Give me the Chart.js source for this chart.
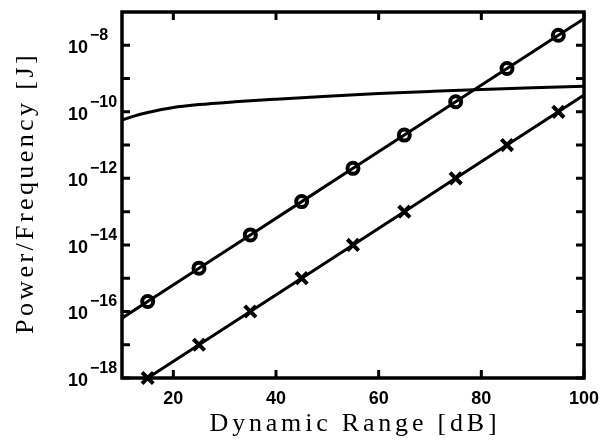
<!DOCTYPE html>
<html>
<head>
<meta charset="utf-8">
<script src="https://cdn.jsdelivr.net/npm/chart.js@4/dist/chart.umd.min.js"></script>
<style>
  body { margin: 0; background: #fff; }
</style>
</head>
<body>
<canvas id="grafico" width="605" height="440"></canvas>
<script>
// Dados ========================================================================

// curva com marcadores circulares
const xCirculo = [10, 15, 25, 35, 45, 55, 65, 75, 85, 95, 100];
const yCirculo = [6.3e-17, 2e-16, 2e-15, 2e-14, 2e-13, 2e-12, 2e-11, 2e-10, 2e-9, 2e-8, 6.3e-8];
const marcaCirculo = [false, true, true, true, true, true, true, true, true, true, false];

// curva com marcadores em X
const xCruz = [15, 25, 35, 45, 55, 65, 75, 85, 95, 100];
const yCruz = [1e-18, 1e-17, 1e-16, 1e-15, 1e-14, 1e-13, 1e-12, 1e-11, 1e-10, 3.2e-10];
const marcaCruz = [true, true, true, true, true, true, true, true, true, false];

// curva suave sem marcadores
const xCurva = [10, 12, 15, 20, 25, 32, 40, 50, 60, 70, 80, 90, 100];
const yCurva = [5.6e-11, 7.2e-11, 9.5e-11, 1.35e-10, 1.65e-10, 2.0e-10, 2.4e-10, 2.95e-10, 3.55e-10, 4.1e-10, 4.7e-10, 5.3e-10, 5.9e-10];

// eixos
const xTicks = [20, 40, 60, 80, 100];
const yDecadas = [-18, -17, -16, -15, -14, -13, -12, -11, -10, -9, -8];
const yRotulos = [-18, -16, -14, -12, -10, -8];
const tituloX = "Dynamic Range [dB]";
const tituloY = "Power/Frequency [J]";

const pares = (xs, ys) => xs.map((v, i) => ({ x: v, y: ys[i] }));

// Plugin de eixos (moldura, ticks internos, rótulos) ===========================

const eixosPlugin = {
  id: "eixos",
  afterDatasetsDraw(chart) {
    const { ctx, chartArea: a, scales } = chart;
    const x = scales.x;
    const y = scales.y;
    const tam = 8;

    ctx.save();
    ctx.strokeStyle = "#000";
    ctx.lineWidth = 3;
    ctx.beginPath();
    xTicks.forEach((v) => {
      const px = x.getPixelForValue(v);
      ctx.moveTo(px, a.bottom);
      ctx.lineTo(px, a.bottom - tam);
      ctx.moveTo(px, a.top);
      ctx.lineTo(px, a.top + tam);
    });
    yDecadas.forEach((e) => {
      const py = y.getPixelForValue(Math.pow(10, e));
      ctx.moveTo(a.left, py);
      ctx.lineTo(a.left + tam, py);
      ctx.moveTo(a.right, py);
      ctx.lineTo(a.right - tam, py);
    });
    ctx.stroke();
    ctx.lineWidth = 3.5;
    ctx.strokeRect(a.left, a.top, a.right - a.left, a.bottom - a.top);

    // rótulos do eixo x
    ctx.fillStyle = "#000";
    ctx.font = "bold 18px 'Liberation Sans', Arial, sans-serif";
    ctx.textAlign = "center";
    ctx.textBaseline = "alphabetic";
    xTicks.forEach((v) => {
      ctx.fillText(String(v), x.getPixelForValue(v), a.bottom + 26);
    });

    // rótulos do eixo y (10 com expoente)
    yRotulos.forEach((e) => {
      const py = y.getPixelForValue(Math.pow(10, e));
      ctx.textAlign = "left";
      ctx.font = "bold 18px 'Liberation Sans', Arial, sans-serif";
      ctx.fillText("10", 68, py + 8);
      ctx.font = "bold 16px 'Liberation Sans', Arial, sans-serif";
      ctx.fillText("\u2212" + Math.abs(e), 90, py - 5);
    });

    // títulos
    ctx.font = "26px 'Liberation Serif', 'Times New Roman', serif";
    ctx.letterSpacing = "3.8px";
    ctx.textAlign = "center";
    ctx.fillText(tituloX, (a.left + a.right) / 2 + 2, 431);
    ctx.save();
    ctx.translate(33, (a.top + a.bottom) / 2);
    ctx.rotate(-Math.PI / 2);
    ctx.letterSpacing = "3.4px";
    ctx.fillText(tituloY, 2, 0);
    ctx.restore();
    ctx.restore();
  },
};

// Gráfico ======================================================================

const config = {
  type: "line",
  data: {
    datasets: [
      {
        label: "curva",
        data: pares(xCurva, yCurva),
        borderColor: "#000",
        borderWidth: 3,
        pointRadius: 0,
        cubicInterpolationMode: "monotone",
        fill: false,
      },
      {
        label: "circulos",
        data: pares(xCirculo, yCirculo),
        borderColor: "#000",
        borderWidth: 3,
        pointStyle: "circle",
        pointRadius: marcaCirculo.map((m) => (m ? 5.5 : 0)),
        pointBorderWidth: 4,
        pointBorderColor: "#000",
        pointBackgroundColor: "rgba(0,0,0,0)",
        fill: false,
      },
      {
        label: "cruzes",
        data: pares(xCruz, yCruz),
        borderColor: "#000",
        borderWidth: 3,
        pointStyle: "crossRot",
        pointRadius: marcaCruz.map((m) => (m ? 8 : 0)),
        pointBorderWidth: 4,
        pointBorderColor: "#000",
        fill: false,
        clip: 10,
      },
    ],
  },
  options: {
    responsive: false,
    animation: false,
    layout: { padding: { left: 122, right: 21, top: 12, bottom: 62 } },
    plugins: {
      legend: { display: false },
      tooltip: { enabled: false },
    },
    scales: {
      x: { type: "linear", min: 10, max: 100, display: false },
      y: { type: "logarithmic", min: 1e-18, max: 1e-7, display: false },
    },
  },
  plugins: [eixosPlugin],
};

const grafico = new Chart(document.getElementById("grafico"), config);
</script>
</body>
</html>
